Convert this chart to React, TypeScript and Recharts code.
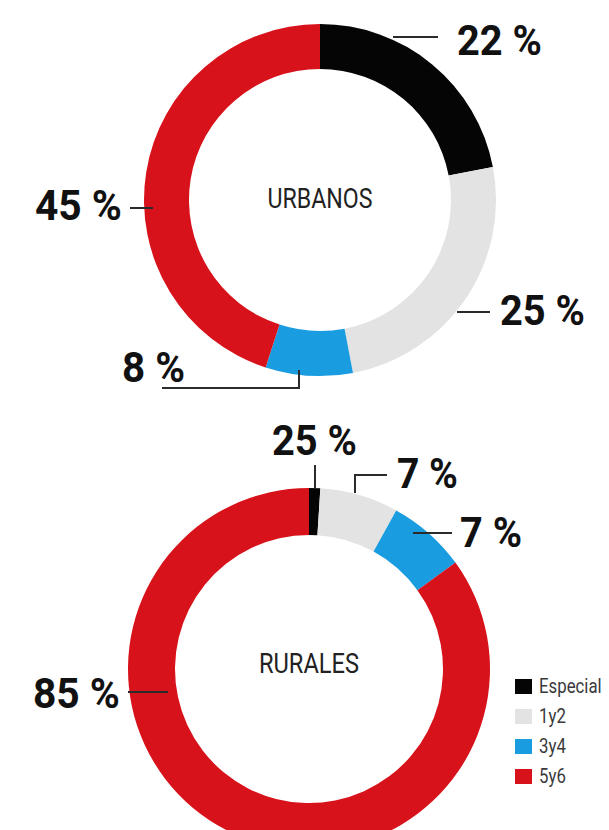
import React from 'react';
import { PieChart, Pie, Cell, Legend } from 'recharts';

// =============================================================================
// DATA
// =============================================================================

const categories = ['Especial', '1y2', '3y4', '5y6'];
const urbanValues = [22, 25, 8, 45];
const urbanLabels = ['22 %', '25 %', '8 %', '45 %'];
const ruralValues = [1, 7, 7, 85];
const ruralLabels = ['25 %', '7 %', '7 %', '85 %'];

const COLORS = ['#050505', '#e3e3e3', '#1a9de0', '#d8121b'];

// =============================================================================
// LAYOUT (label placement relative to pie centre)
// =============================================================================

type LabelSpot = { line: [number, number][]; x: number; y: number; w: number };

const urbanSpots: LabelSpot[] = [
  { line: [[73, -163], [118, -163]], x: 137, y: -145, w: 85 },
  { line: [[137, 112], [170, 112]], x: 180, y: 125, w: 85 },
  { line: [[-21, 170], [-21, 188], [-158, 188]], x: -198, y: 182, w: 63 },
  { line: [[-190, 8], [-167, 8]], x: -285, y: 20, w: 87 },
];

const ruralSpots: LabelSpot[] = [
  { line: [[6, -204], [6, -181]], x: -37, y: -214, w: 85 },
  { line: [[46, -176], [46, -194], [78, -194]], x: 88, y: -181, w: 61 },
  { line: [[104, -136], [143, -136]], x: 151, y: -122, w: 62 },
  { line: [[-181, 23], [-141, 23]], x: -276, y: 39, w: 87 },
];

const FONT = 'Roboto, "Liberation Sans", sans-serif';

type CenterText = { text: string; w: number; dy: number };

function makeLabel(texts: string[], spots: LabelSpot[], center: CenterText) {
  return (props: any) => {
    const { cx, cy, index } = props;
    const s = spots[index];
    const pts = s.line.map(([dx, dy]) => `${cx + dx},${cy + dy}`).join(' ');
    return (
      <g key={`lbl-${index}`}>
        <polyline points={pts} fill="none" stroke="#2b2b2b" strokeWidth={2} />
        <text
          x={cx + s.x}
          y={cy + s.y}
          fontFamily={FONT}
          fontWeight={700}
          fontSize={42}
          fill="#111"
          textLength={s.w}
          lengthAdjust="spacingAndGlyphs"
        >
          {texts[index]}
        </text>
        {index === 0 && (
          <text
            x={cx - center.w / 2}
            y={cy + center.dy}
            fontFamily={FONT}
            fontSize={27}
            fill="#222"
            textLength={center.w}
            lengthAdjust="spacingAndGlyphs"
          >
            {center.text}
          </text>
        )}
      </g>
    );
  };
}

function LegendBox() {
  return (
    <div style={{ fontFamily: FONT }}>
      {categories.map((name, i) => (
        <div key={name} style={{ display: 'flex', alignItems: 'center', height: 30 }}>
          <span
            style={{ flexShrink: 0, width: 17, height: 15, background: COLORS[i], marginRight: 7 }}
          />
          <span
            style={{
              fontSize: 21,
              color: '#3a3a3a',
              whiteSpace: 'nowrap',
              display: 'inline-block',
              transform: 'scaleX(0.8)',
              transformOrigin: 'left center',
            }}
          >
            {name}
          </span>
        </div>
      ))}
    </div>
  );
}

const urbanData = categories.map((name, i) => ({ name, value: urbanValues[i] }));
const ruralData = categories.map((name, i) => ({ name, value: ruralValues[i] }));

export default function App() {
  return (
    <div style={{ position: 'absolute', top: 0, left: 0, width: 609, height: 830, background: '#fff' }}>
      <PieChart width={609} height={830}>
        <Pie
          data={urbanData}
          dataKey="value"
          nameKey="name"
          cx={315}
          cy={195}
          innerRadius={131}
          outerRadius={176}
          startAngle={90}
          endAngle={-270}
          stroke="none"
          labelLine={false}
          label={makeLabel(urbanLabels, urbanSpots, { text: 'URBANOS', w: 105, dy: 8 })}
          isAnimationActive={false}
        >
          {urbanData.map((_, i) => (
            <Cell key={`u-${i}`} fill={COLORS[i]} />
          ))}
        </Pie>
        <Pie
          data={ruralData}
          dataKey="value"
          nameKey="name"
          cx={304}
          cy={664}
          innerRadius={134}
          outerRadius={181}
          startAngle={90}
          endAngle={-270}
          stroke="none"
          labelLine={false}
          label={makeLabel(ruralLabels, ruralSpots, { text: 'RURALES', w: 100, dy: 4 })}
          isAnimationActive={false}
        >
          {ruralData.map((_, i) => (
            <Cell key={`r-${i}`} fill={COLORS[i]} />
          ))}
        </Pie>
        <Legend
          layout="vertical"
          content={() => <LegendBox />}
          wrapperStyle={{ position: 'absolute', left: 515, top: 671, width: 94 }}
        />
      </PieChart>
    </div>
  );
}
